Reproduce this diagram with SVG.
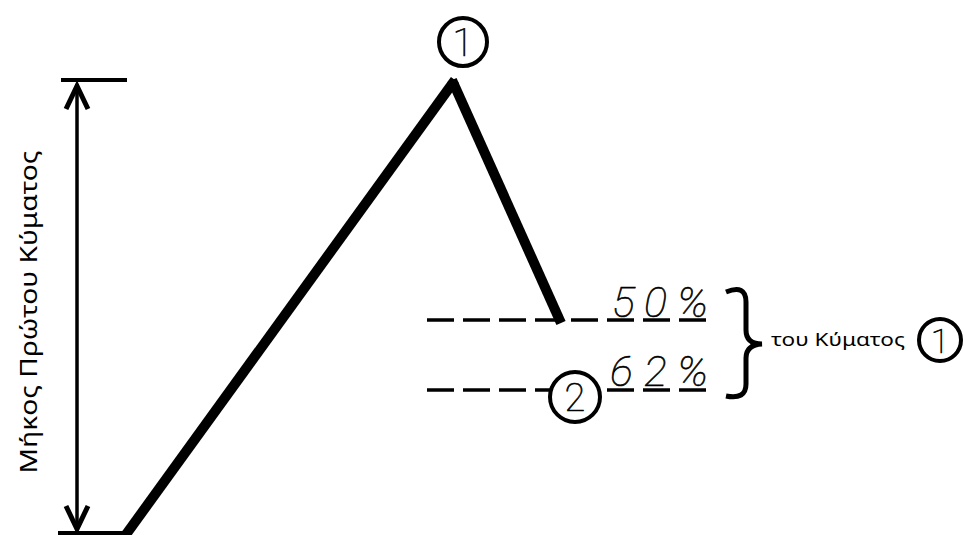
<svg xmlns="http://www.w3.org/2000/svg" width="964" height="535" viewBox="0 0 964 535">
<style>
.thin{font-family:Roboto,Inter,"DejaVu Sans",sans-serif;font-weight:100;fill:#000;stroke:#000;stroke-width:0.6}
.lbl{font-family:"Noto Sans","DejaVu Sans",sans-serif;font-weight:400;fill:#000}
.ring{fill:#fff;stroke:#000;stroke-width:4}
.dash{stroke:#000;stroke-width:3.5;stroke-dasharray:27 9;fill:none}
</style>
<rect width="964" height="535" fill="#fff"/>
<g id="connectors">
  <line x1="61" y1="80" x2="127" y2="80" stroke="#000" stroke-width="4"/>
  <line x1="58" y1="533" x2="128" y2="533" stroke="#000" stroke-width="4"/>
  <line x1="77" y1="84" x2="77" y2="530" stroke="#000" stroke-width="3.5"/>
  <polyline points="66,109 77,86 88,109" fill="none" stroke="#000" stroke-width="5"/>
  <polyline points="66,506 77,529 88,506" fill="none" stroke="#000" stroke-width="5"/>
  <line x1="122" y1="540" x2="455" y2="80" stroke="#000" stroke-width="10"/>
  <line x1="452" y1="80" x2="561" y2="323" stroke="#000" stroke-width="10"/>
  <line class="dash" x1="427" y1="320" x2="707" y2="320"/>
  <line class="dash" x1="427" y1="390" x2="707" y2="390"/>
  <path d="M726,292 Q746,284 746,302 L746,330 Q746,344 762,344 Q746,345 746,358 L746,384 Q746,400 726,396" fill="none" stroke="#000" stroke-width="5"/>
</g>
<g id="label-length">
  <text class="lbl" font-size="24" text-anchor="middle" textLength="323" lengthAdjust="spacingAndGlyphs" transform="translate(37,312) rotate(-90)">Μήκος Πρώτου Κύματος</text>
</g>
<g id="wave1">
  <circle class="ring" cx="463" cy="42" r="24"/>
  <text class="thin" x="463" y="56" font-size="38" text-anchor="middle">1</text>
</g>
<g id="wave2">
  <circle class="ring" cx="575" cy="397" r="25"/>
  <text class="thin" x="575" y="411" font-size="38" text-anchor="middle">2</text>
</g>
<g id="pct50">
  <text class="thin" font-style="italic" font-size="43" x="612 644 677" y="317">50%</text>
</g>
<g id="pct62">
  <text class="thin" font-style="italic" font-size="43" x="610 644 677" y="386">62%</text>
</g>
<g id="label-wave">
  <text class="lbl" font-size="18" x="771" y="346" textLength="134" lengthAdjust="spacingAndGlyphs">του Κύματος</text>
  <circle class="ring" cx="940" cy="340" r="21"/>
  <text class="thin" x="940" y="353" font-size="34" text-anchor="middle">1</text>
</g>
</svg>
